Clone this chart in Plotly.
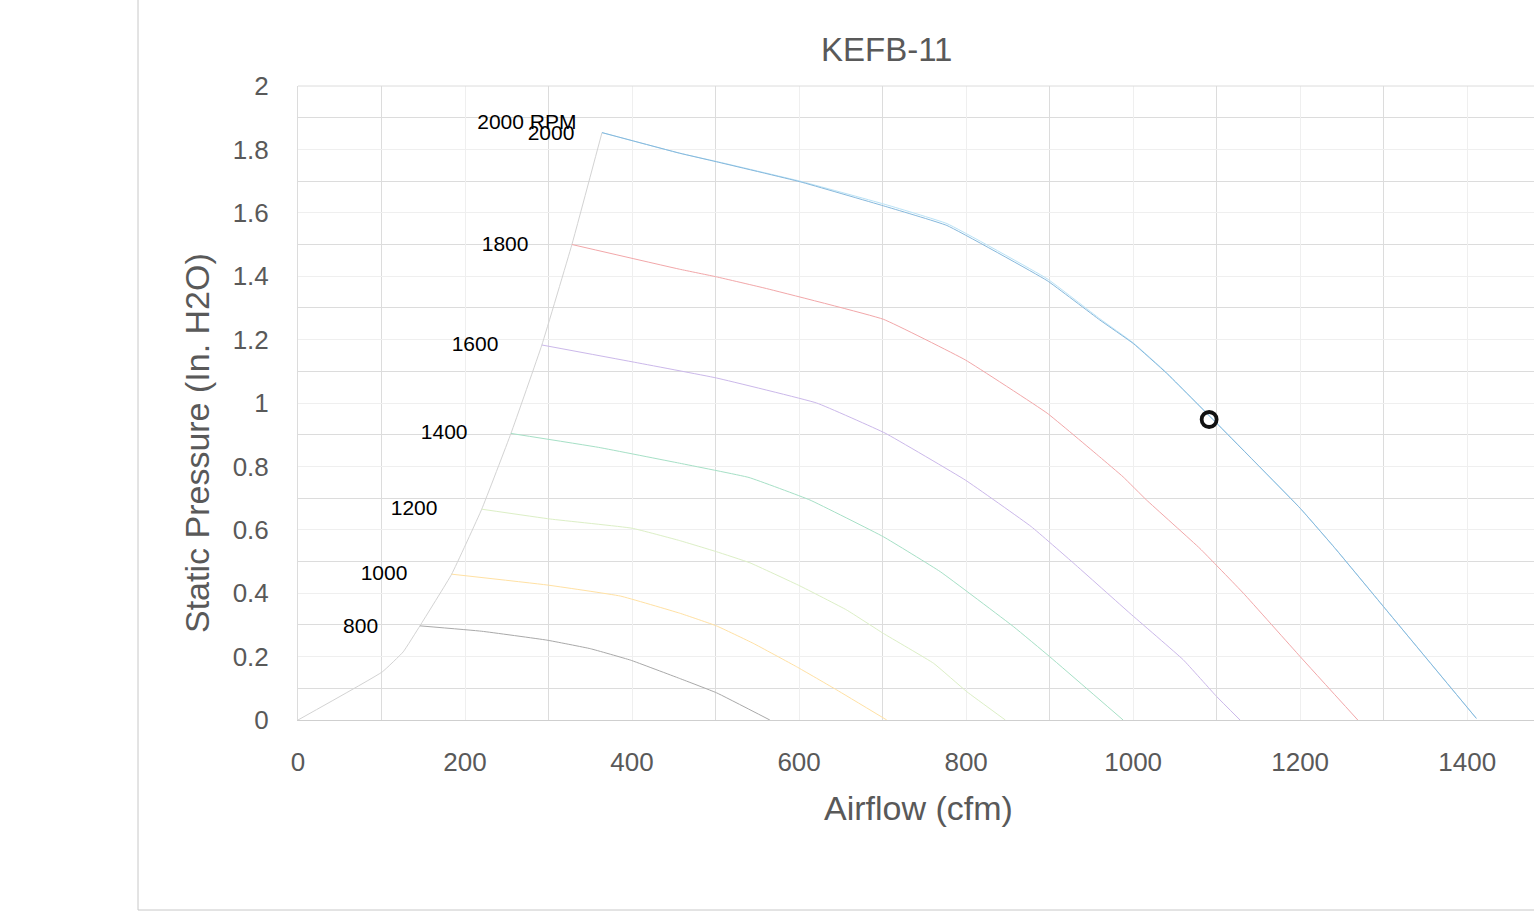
import plotly.graph_objects as go

# ---- data ----
sys_x = [0, 101, 126, 146, 184, 220, 255, 292, 328, 364]
sys_y = [0, 0.152, 0.215, 0.297, 0.46, 0.665, 0.904, 1.183, 1.50, 1.853]

rpm800_x = [146, 220, 298, 350, 398, 457, 501, 565]
rpm800_y = [0.297, 0.280, 0.252, 0.225, 0.189, 0.131, 0.086, 0.0]

rpm1000_x = [184, 298, 386, 457, 501, 545, 597, 645, 705]
rpm1000_y = [0.46, 0.426, 0.391, 0.337, 0.297, 0.242, 0.168, 0.095, 0.0]

rpm1200_x = [220, 302, 400, 457, 501, 541, 601, 657, 701, 761, 801, 847]
rpm1200_y = [0.665, 0.634, 0.605, 0.566, 0.531, 0.496, 0.423, 0.347, 0.273, 0.179, 0.089, 0.0]

rpm1400_x = [255, 360, 457, 540, 613, 701, 769, 857, 900, 988]
rpm1400_y = [0.904, 0.860, 0.810, 0.765, 0.694, 0.578, 0.468, 0.294, 0.200, 0.0]

rpm1600_x = [292, 400, 501, 621, 703, 799, 878, 929, 996, 1060, 1100, 1128]
rpm1600_y = [1.183, 1.130, 1.079, 1.000, 0.905, 0.757, 0.610, 0.494, 0.337, 0.190, 0.074, 0.0]

rpm1800_x = [328, 457, 501, 561, 701, 799, 897, 960, 988, 1016, 1080, 1132, 1200, 1269]
rpm1800_y = [1.50, 1.422, 1.398, 1.361, 1.264, 1.136, 0.968, 0.830, 0.767, 0.694, 0.541, 0.400, 0.200, 0.0]

rpm2000_x = [364, 457, 501, 601, 701, 777, 897, 960, 1000, 1040, 1100, 1200, 1242, 1300, 1411]
rpm2000_y = [1.853, 1.788, 1.761, 1.698, 1.622, 1.560, 1.386, 1.262, 1.188, 1.094, 0.936, 0.668, 0.541, 0.357, 0.005]

op_x = [364, 457, 501, 601, 701, 777, 897, 960, 1000, 1040, 1100, 1200, 1242, 1300, 1411]
op_y = [1.853, 1.788, 1.762, 1.700, 1.628, 1.566, 1.392, 1.266, 1.190, 1.096, 0.937, 0.668, 0.541, 0.357, 0.005]

point_x = [1091]
point_y = [0.948]

labels = ["2000 RPM", "2000", "1800", "1600", "1400", "1200", "1000", "800"]
label_x = [274, 303, 248, 212, 175, 139, 103, 75]
label_y = [1.880, 1.846, 1.497, 1.181, 0.904, 0.662, 0.459, 0.292]

x_ticks = [0, 200, 400, 600, 800, 1000, 1200, 1400]
y_ticks = [0, 0.2, 0.4, 0.6, 0.8, 1, 1.2, 1.4, 1.6, 1.8, 2]
y_tick_text = ["0", "0.2", "0.4", "0.6", "0.8", "1", "1.2", "1.4", "1.6", "1.8", "2"]

# ---- figure ----
fig = go.Figure()
curves = [
    (sys_x, sys_y, "#d3d3d3"),
    (rpm800_x, rpm800_y, "#a9a9a9"),
    (rpm1000_x, rpm1000_y, "#ffe1a3"),
    (rpm1200_x, rpm1200_y, "#dcefc6"),
    (rpm1400_x, rpm1400_y, "#a6e0c6"),
    (rpm1600_x, rpm1600_y, "#cbb8ea"),
    (rpm1800_x, rpm1800_y, "#f2a7a9"),
    (op_x, op_y, "#b9e2f6"),
    (rpm2000_x, rpm2000_y, "#86b8dc"),
]
for xs, ys, c in curves:
    fig.add_trace(go.Scatter(x=xs, y=ys, mode="lines",
                             line=dict(color=c, width=1, shape="spline", smoothing=0.3),
                             hoverinfo="skip", showlegend=False))

fig.add_trace(go.Scatter(x=point_x, y=point_y, mode="markers",
                         marker=dict(symbol="circle-open", size=15, color="#111111",
                                     line=dict(color="#111111", width=3.8)),
                         showlegend=False))

fig.add_trace(go.Scatter(x=label_x, y=label_y, mode="text", text=labels,
                         textposition="middle center",
                         textfont=dict(family="Liberation Sans, Arial", size=21, color="#000000"),
                         showlegend=False, hoverinfo="skip"))

tick_font = dict(family="Liberation Sans, Arial", size=26, color="#595959")
fig.update_xaxes(range=[0, 1480], tickvals=x_ticks, ticktext=[str(v) for v in x_ticks],
                 showgrid=True, gridcolor="#efefef", gridwidth=1,
                 minor=dict(dtick=100, tick0=0, showgrid=True, gridcolor="#dcdcdc", gridwidth=1),
                 showline=True, linecolor="#cfcfcf", linewidth=1,
                 zeroline=False, ticks="", tickfont=tick_font, ticklabelstandoff=19)
fig.update_yaxes(range=[0, 2], tickvals=y_ticks, ticktext=y_tick_text,
                 showgrid=True, gridcolor="#efefef", gridwidth=1,
                 minor=dict(dtick=0.1, tick0=0, showgrid=True, gridcolor="#dcdcdc", gridwidth=1),
                 showline=True, linecolor="#dcdcdc", linewidth=1,
                 zeroline=False, ticks="", tickfont=tick_font, ticklabelstandoff=23)

W, H = 1534, 923
L, R, T, B = 298, 0, 86, 203
pw, ph = W - L - R, H - T - B

def px_x(p):
    return (p - L) / pw

def px_y(p):
    return (H - B - p) / ph

fig.add_shape(type="line", xref="paper", yref="paper", x0=0, x1=1, y0=1, y1=1,
              line=dict(color="#dcdcdc", width=1))
fig.add_shape(type="line", xref="paper", yref="paper", x0=px_x(138), x1=px_x(138), y0=px_y(0), y1=px_y(910),
              line=dict(color="#c8c8c8", width=1))
fig.add_shape(type="line", xref="paper", yref="paper", x0=px_x(138), x1=1.01, y0=px_y(910), y1=px_y(910),
              line=dict(color="#c8c8c8", width=1))

fig.add_annotation(text="KEFB-11", xref="paper", yref="paper", x=px_x(886), y=px_y(50),
                   xanchor="center", yanchor="middle", showarrow=False,
                   font=dict(family="Liberation Sans, Arial", size=33, color="#595959"))
fig.add_annotation(text="Airflow (cfm)", xref="paper", yref="paper", x=px_x(918), y=px_y(808),
                   xanchor="center", yanchor="middle", showarrow=False,
                   font=dict(family="Liberation Sans, Arial", size=34, color="#595959"))
fig.add_annotation(text="Static Pressure (In. H2O)", xref="paper", yref="paper", x=px_x(197), y=px_y(443),
                   xanchor="center", yanchor="middle", showarrow=False, textangle=-90,
                   font=dict(family="Liberation Sans, Arial", size=34, color="#595959"))

fig.update_layout(width=W, height=H, margin=dict(l=L, r=R, t=T, b=B),
                  paper_bgcolor="white", plot_bgcolor="white", showlegend=False)

fig.write_html("out.html", config={"displayModeBar": False},
               post_script="document.body.style.margin='0';document.body.style.overflow='hidden';")
